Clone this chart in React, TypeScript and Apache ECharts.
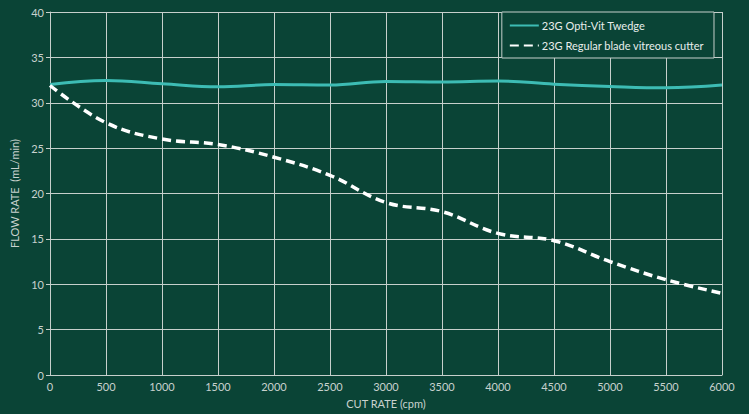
import React, { useEffect, useRef } from "react";
import * as echarts from "echarts";

const cutRates = [0, 500, 1000, 1500, 2000, 2500, 3000, 3500, 4000, 4500, 5000, 5500, 6000];
const optiVit = [32.0, 32.45, 32.1, 31.75, 32.0, 31.95, 32.35, 32.3, 32.4, 32.05, 31.8, 31.65, 31.95];
const regular = [31.9, 27.8, 26.0, 25.4, 24.0, 22.0, 19.0, 18.0, 15.6, 14.8, 12.5, 10.5, 9.0];
const seriesNames = ["23G Opti-Vit Twedge", "23G Regular blade vitreous cutter"];

const BG = "#0a4436";
const GRID = "#c6d0cc";
const TXT = "#c8d2ce";
const FONT = "Lato, 'Noto Sans', sans-serif";

export default function App() {
  const ref = useRef<HTMLDivElement>(null);
  useEffect(() => {
    if (!ref.current) return;
    const chart = echarts.init(ref.current, null, { renderer: "svg" });
    chart.setOption({
      animation: false,
      backgroundColor: BG,
      textStyle: { fontFamily: FONT },
      grid: { left: 50, right: 27, top: 12, bottom: 37, containLabel: false },
      legend: {
        orient: "vertical",
        right: 35,
        top: 12,
        backgroundColor: BG,
        borderColor: GRID,
        borderWidth: 1,
        borderRadius: 0,
        padding: [8, 10, 7, 7],
        itemGap: 9,
        itemWidth: 29,
        itemHeight: 8,
        itemStyle: { opacity: 0 },
        lineStyle: { width: 2 },
        textStyle: { color: "#e8eeec", fontSize: 11, fontFamily: FONT, padding: [0, 0, 0, -2] },
        data: seriesNames,
      },
      xAxis: {
        type: "value",
        min: 0,
        max: 6000,
        interval: 500,
        name: "CUT RATE (cpm)",
        nameLocation: "middle",
        nameGap: 23,
        nameTextStyle: { color: TXT, fontSize: 11, fontFamily: FONT },
        axisLine: { show: true, lineStyle: { color: GRID, width: 1 } },
        axisTick: { show: true, inside: true, length: 3, lineStyle: { color: GRID } },
        axisLabel: { color: TXT, fontSize: 11, margin: 6, fontFamily: FONT, formatter: (v: number) => String(v) },
        splitLine: { show: true, lineStyle: { color: GRID, width: 1 } },
      },
      yAxis: {
        type: "value",
        min: 0,
        max: 40,
        interval: 5,
        name: "FLOW RATE  (mL/min)",
        nameLocation: "middle",
        nameGap: 28,
        nameTextStyle: { color: TXT, fontSize: 11, fontFamily: FONT },
        axisLine: { show: true, lineStyle: { color: GRID, width: 1 } },
        axisTick: { show: true, length: 4, lineStyle: { color: GRID } },
        axisLabel: { color: TXT, fontSize: 11, margin: 6, fontFamily: FONT },
        splitLine: { show: true, lineStyle: { color: GRID, width: 1 } },
      },
      series: [
        {
          name: seriesNames[0],
          type: "line",
          data: cutRates.map((x, i) => [x, optiVit[i]]),
          smooth: 0.4,
          showSymbol: false,
          symbol: "none",
          lineStyle: { color: "#3dbcb4", width: 3 },
          itemStyle: { color: "#3dbcb4" },
          z: 3,
        },
        {
          name: seriesNames[1],
          type: "line",
          data: cutRates.map((x, i) => [x, regular[i]]),
          smooth: 0.4,
          showSymbol: false,
          symbol: "none",
          lineStyle: { color: "#ffffff", width: 3.5, type: [9, 5] },
          itemStyle: { color: "#ffffff" },
          z: 4,
        },
      ],
    });
    return () => chart.dispose();
  }, []);
  return (
    <div
      ref={ref}
      style={{ position: "fixed", left: 0, top: 0, width: 749, height: 414 }}
    />
  );
}
